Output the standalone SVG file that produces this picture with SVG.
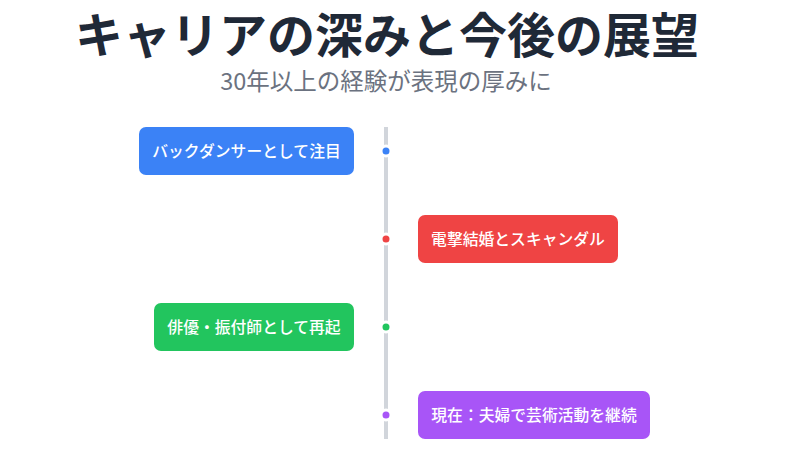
<svg xmlns="http://www.w3.org/2000/svg" width="798" height="458" viewBox="0 0 798 458">
<style>
text{font-family:"Noto Sans CJK JP","Noto Sans",sans-serif}
.t{fill:#fff;font-size:15.8px;font-weight:500;text-anchor:middle}
.d{stroke:#fff;stroke-width:3}
</style>
<rect width="798" height="458" fill="#fff"/>
<text x="387" y="53" font-size="48" font-weight="700" fill="#1f2937" text-anchor="middle">キャリアの深みと今後の展望</text>
<text x="386" y="90" font-size="23.5" fill="#6b7280" text-anchor="middle">30年以上の経験が表現の厚みに</text>
<g id="connectors"><line x1="386" y1="127" x2="386" y2="439" stroke="#d1d5db" stroke-width="4"/></g>
<g id="n1"><rect x="139" y="127" width="215" height="48" rx="7" fill="#3b82f6"/><text class="t" x="246.5" y="156.5">バックダンサーとして注目</text><circle class="d" cx="386" cy="151" r="5" fill="#3b82f6"/></g>
<g id="n2"><rect x="418" y="215" width="200" height="48" rx="7" fill="#ef4444"/><text class="t" x="518" y="244.5">電撃結婚とスキャンダル</text><circle class="d" cx="386" cy="239" r="5" fill="#ef4444"/></g>
<g id="n3"><rect x="154" y="303" width="200" height="48" rx="7" fill="#22c55e"/><text class="t" x="254" y="332.5">俳優・振付師として再起</text><circle class="d" cx="386" cy="327" r="5" fill="#22c55e"/></g>
<g id="n4"><rect x="418" y="391" width="232" height="48" rx="7" fill="#a855f7"/><text class="t" x="534" y="420.5">現在：夫婦で芸術活動を継続</text><circle class="d" cx="386" cy="415" r="5" fill="#a855f7"/></g>
</svg>
